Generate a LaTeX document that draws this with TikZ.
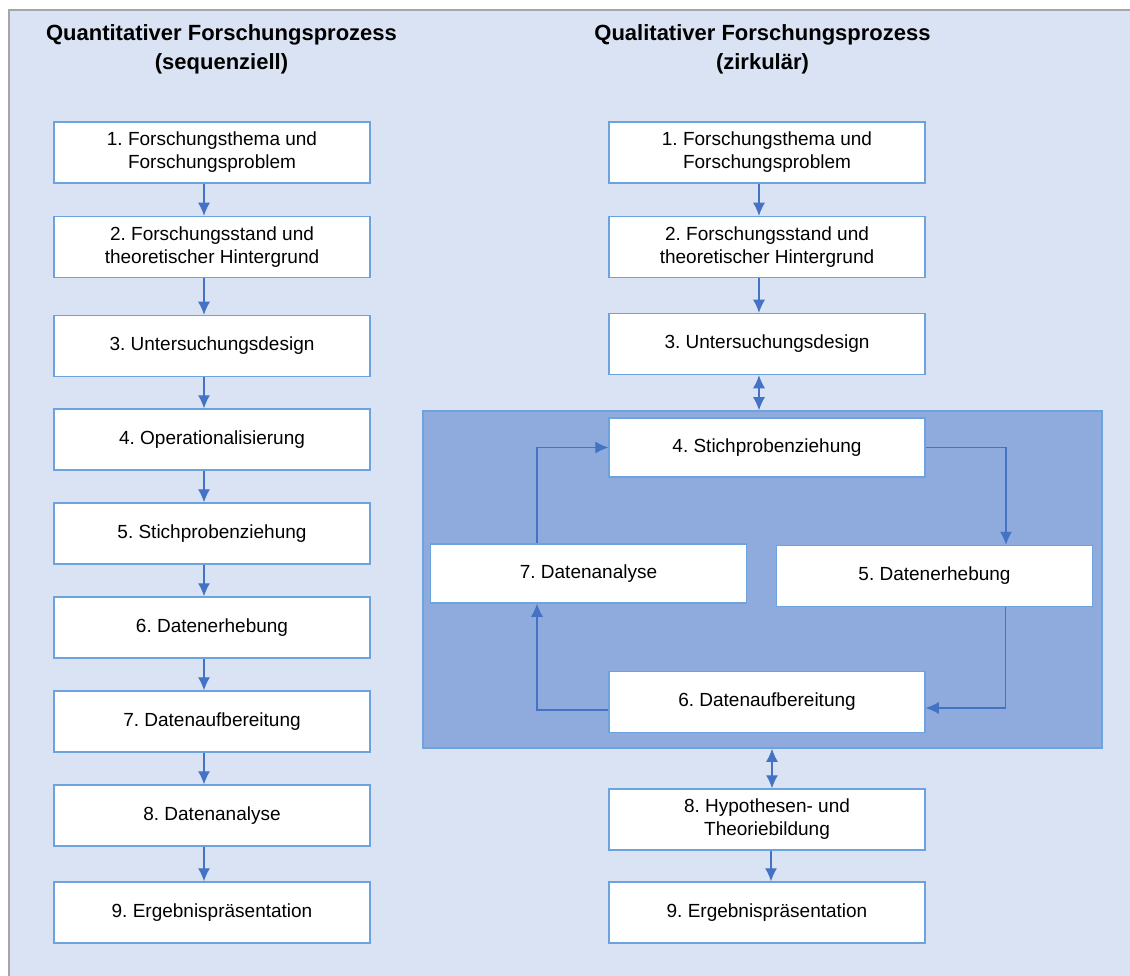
\documentclass[tikz,border=0pt]{standalone}
\usepackage{fontspec}
\setmainfont{Liberation Sans}
\usepackage{xcolor}
\usetikzlibrary{arrows.meta, positioning, calc}
\frenchspacing

\definecolor{bgblue}{HTML}{DAE3F3}
\definecolor{rimgrey}{HTML}{A6A6A6}
\definecolor{cyclefill}{HTML}{8FAADC}
\definecolor{boxline}{HTML}{6CA3DC}
\definecolor{arrowblue}{HTML}{4472C4}

\begin{document}
\begin{tikzpicture}[
  x=1pt, y=-1pt,
  every node/.style={font=\fontsize{19}{23}\selectfont},
  stepbox/.style={draw=boxline, line width=1.5pt, fill=white, align=center,
    minimum width=316pt, minimum height=61pt, inner sep=0pt},
  headline/.style={font=\fontsize{22}{29}\selectfont\bfseries, align=center,
    inner sep=0pt, anchor=north},
  arr/.style={-{Latex[length=13pt, width=12pt]}, line width=1.1pt, draw=arrowblue},
  darr/.style={{Latex[length=13pt, width=12pt]}-{Latex[length=13pt, width=12pt]},
    line width=1.1pt, draw=arrowblue},
]
  \useasboundingbox (0,0) rectangle (1130,976);
  % Background
  \draw[fill=bgblue, draw=rimgrey, line width=2pt] (9,10) rectangle (1145,995);

  % Titles
  \node[headline] (tquant) at (221.5,24) {Quantitativer Forschungsprozess\\(sequenziell)};
  \node[headline] (tqual) at (762.5,24) {Qualitativer Forschungsprozess\\(zirkulär)};

  % Quantitative column
  \foreach \y/\t [count=\i] in {
      152.5/{1. Forschungsthema und\\Forschungsproblem},
      247/{2. Forschungsstand und\\theoretischer Hintergrund},
      346/{3. Untersuchungsdesign},
      439.5/{4. Operationalisierung},
      533.5/{5. Stichprobenziehung},
      627.5/{6. Datenerhebung},
      721.5/{7. Datenaufbereitung},
      815.5/{8. Datenanalyse},
      912.5/{9. Ergebnispräsentation}} {
    \node[stepbox] (l\i) at (212,\y) {\t};
  }
  \foreach \i [evaluate=\i as \j using int(\i+1)] in {1,...,8} {
    \draw[arr] ([xshift=-8pt]l\i.south) -- ([xshift=-8pt]l\j.north);
  }

  % Qualitative column, cycle frame
  \node[draw=boxline, line width=1.6pt, fill=cyclefill, inner sep=0pt,
    minimum width=679pt, minimum height=337pt] (zyklus) at (762.5,579.5) {};

  \node[stepbox] (r1) at (767,152.5) {1. Forschungsthema und\\Forschungsproblem};
  \node[stepbox] (r2) at (767,247) {2. Forschungsstand und\\theoretischer Hintergrund};
  \node[stepbox] (r3) at (767,344) {3. Untersuchungsdesign};
  \node[stepbox, minimum height=59pt] (r4) at (767,447.5) {4. Stichprobenziehung};
  \node[stepbox] (r5) at (934.5,576) {5. Datenerhebung};
  \node[stepbox, minimum height=59pt] (r7) at (588.5,573.5) {7. Datenanalyse};
  \node[stepbox] (r6) at (767,702) {6. Datenaufbereitung};
  \node[stepbox] (r8) at (767,819.5) {8. Hypothesen- und\\Theoriebildung};
  \node[stepbox] (r9) at (767,912.5) {9. Ergebnispräsentation};

  \draw[arr] ([xshift=-8pt]r1.south) -- ([xshift=-8pt]r2.north);
  \draw[arr] ([xshift=-8pt]r2.south) -- ([xshift=-8pt]r3.north);
  \coordinate (d1) at ([xshift=-8pt]r3.south);
  \draw[darr] (d1) -- (d1 |- zyklus.north);

  % cycle
  \draw[arr] (r4.east) -| ([xshift=71.5pt]r5.north);
  \draw[arr] ([xshift=71pt]r5.south) |- ([yshift=-6pt]r6.east);
  \draw[arr] ([yshift=-8pt]r6.west) -| ([xshift=-51.5pt]r7.south);
  \draw[arr] ([xshift=-51.5pt]r7.north) |- (r4.west);

  \draw[darr] ([xshift=9.5pt]zyklus.south) -- ([xshift=5pt]r8.north);
  \draw[arr] ([xshift=4pt]r8.south) -- ([xshift=4pt]r9.north);
\end{tikzpicture}
\end{document}
